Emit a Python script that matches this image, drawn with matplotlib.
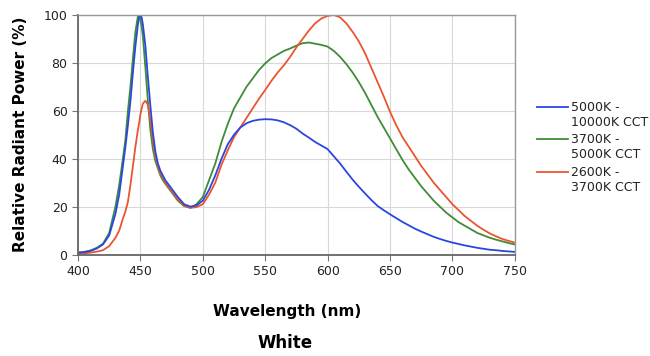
import matplotlib.pyplot as plt
from matplotlib.lines import Line2D

# wavelengths (nm) and relative radiant power (%)
wavelength = [400, 405, 410, 415, 420, 425, 430, 433, 436, 438, 440, 442, 444, 446, 448, 449,
              450, 451, 452, 454, 456, 458, 460, 462, 464, 466, 468, 470, 475, 480, 485, 490,
              495, 500, 505, 510, 515, 520, 525, 530, 535, 540, 545, 550, 555, 560, 565, 570,
              575, 580, 585, 590, 595, 600, 605, 610, 615, 620, 625, 630, 635, 640, 645, 650,
              655, 660, 665, 670, 675, 680, 685, 690, 695, 700, 705, 710, 715, 720, 725, 730,
              735, 740, 745, 750]

cool = [0.8, 1.0, 1.5, 2.5, 4.2, 8, 17, 25, 37, 45, 54, 64, 76, 87, 96, 99,
        100, 99, 96, 87, 74, 62, 51, 43, 38, 35, 33, 31, 27.5, 24, 21, 20,
        20.5, 22.5, 27, 33, 40, 46, 50, 53, 54.8, 55.8, 56.3, 56.5, 56.4, 56, 55.2, 54,
        52.5, 50.5, 48.8, 47, 45.5, 44, 41, 38, 34.6, 31.3, 28.3, 25.5, 22.8, 20.3, 18.5, 16.8,
        15.2, 13.6, 12.2, 10.8, 9.6, 8.5, 7.4, 6.5, 5.7, 5, 4.4, 3.8, 3.3, 2.8, 2.4, 2,
        1.8, 1.5, 1.3, 1.1]

neutral = [0.8, 1.1, 1.7, 2.8, 4.5, 9, 20, 29, 40, 48, 60, 70, 82, 93, 99.5, 100,
           98, 95, 91, 78, 64, 52, 44, 39, 36, 33, 31, 29.5, 26, 22.5, 20.2, 19.5,
           21, 24, 31, 38, 47, 54.5, 61, 65.5, 70, 73.5, 77, 79.8, 82, 83.5, 85, 86,
           87.2, 88.2, 88.5, 88, 87.5, 86.8, 85, 82.5, 79.5, 76, 72, 67.5, 62.5, 57.5, 53, 48.5,
           44, 39.5, 35.5, 32, 28.5, 25.5, 22.5, 20, 17.5, 15.5, 13.5, 12, 10.5, 9, 8, 7,
           6.2, 5.5, 4.8, 4.2]

warm = [0.3, 0.5, 0.8, 1.2, 1.8, 3.5, 7, 10, 15, 18, 22, 29, 37, 45, 52, 55,
        58.5, 61, 63, 64.2, 62.5, 56, 48, 41, 37, 34, 32, 30, 26.5, 23, 20.5, 19.5,
        19.8, 21, 25, 30, 37.5, 43.5, 49, 53, 57, 61, 65, 68.7, 72.5, 76, 79, 82.5,
        86.5, 90, 93.5, 96.5, 98.5, 99.6, 100, 99, 96.5, 93, 89, 84, 78, 72, 66, 59.6,
        54, 49, 45, 41, 37, 33.5, 30, 27, 24, 21, 18.5, 16, 14, 12, 10.3, 8.8,
        7.6, 6.5, 5.7, 5]

labels = ["5000K -\n10000K CCT", "3700K -\n5000K CCT", "2600K -\n3700K CCT"]
colors = ["#2a46e0", "#3f8c35", "#ea5530"]

fig = plt.figure(figsize=(6.5, 3.56), dpi=100)
ax = fig.add_axes([0.12, 0.285, 0.672, 0.673])

ax.plot(wavelength, neutral, color=colors[1], lw=1.3)
ax.plot(wavelength, warm, color=colors[2], lw=1.3)
ax.plot(wavelength, cool, color=colors[0], lw=1.3)

ax.set_xlim(400, 750)
ax.set_ylim(0, 100)
ax.set_xticks(range(400, 751, 50))
ax.set_yticks(range(0, 101, 20))
ax.grid(True, color="#d8d8d8", lw=0.8)
ax.set_axisbelow(True)

for side in ["top", "right"]:
    ax.spines[side].set_color("#999999")
    ax.spines[side].set_linewidth(1.0)
for side in ["left", "bottom"]:
    ax.spines[side].set_color("#666666")
    ax.spines[side].set_linewidth(1.3)

ax.tick_params(colors="#777777", labelcolor="#222222", labelsize=9, length=4, width=0.8)

ax.set_ylabel("Relative Radiant Power (%)", fontsize=11, fontweight="bold")
ax.yaxis.set_label_coords(-0.114, 0.5)
ax.set_xlabel("Wavelength (nm)", fontsize=11, fontweight="bold")
ax.xaxis.set_label_coords(0.479, -0.205)
fig.text(0.438, 0.0365, "White", fontsize=12, fontweight="bold", ha="center", va="center")

# legend drawn by hand so the line sits next to the first text line
ys = [107, 139, 172]
for lab, col, y in zip(labels, colors, ys):
    yf = 1 - y / 356
    fig.add_artist(Line2D([537 / 650, 568 / 650], [yf, yf], color=col, lw=1.3))
    fig.text(571 / 650, yf + 0.018, lab, fontsize=9, color="#222222", va="top",
             linespacing=1.25)

fig.savefig("out.png", dpi=100)
